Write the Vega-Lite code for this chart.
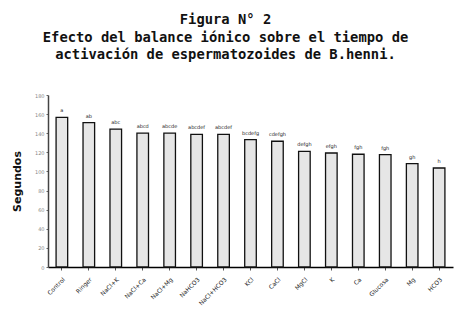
{
  "$schema": "https://vega.github.io/schema/vega-lite/v6.json",
  "autosize": {"type": "none"},
  "width": 405,
  "height": 172,
  "padding": {"left": 48, "top": 95, "right": 9, "bottom": 44},
  "background": "white",
  "title": {
    "text": ["Figura N° 2", "Efecto del balance iónico sobre el tiempo de", "activación de espermatozoides de B.henni."],
    "font": "DejaVu Sans Mono",
    "fontSize": 13.8,
    "fontWeight": "bold",
    "color": "#111",
    "anchor": "middle",
    "frame": "group",
    "dx": -25,
    "offset": 31,
    "lineHeight": 17.5
  },
  "data": {
    "values": [
      {"solucion": "Control", "segundos": 156.6, "letra": "a"},
      {"solucion": "Ringer", "segundos": 151, "letra": "ab"},
      {"solucion": "NaCl+K", "segundos": 144.3, "letra": "abc"},
      {"solucion": "NaCl+Ca", "segundos": 140, "letra": "abcd"},
      {"solucion": "NaCl+Mg", "segundos": 140, "letra": "abcde"},
      {"solucion": "NaHCO3", "segundos": 138.7, "letra": "abcdef"},
      {"solucion": "NaCl+HCO3", "segundos": 138.7, "letra": "abcdef"},
      {"solucion": "KCl", "segundos": 133.4, "letra": "bcdefg"},
      {"solucion": "CaCl", "segundos": 131.6, "letra": "cdefgh"},
      {"solucion": "MgCl", "segundos": 121, "letra": "defgh"},
      {"solucion": "K", "segundos": 119.3, "letra": "efgh"},
      {"solucion": "Ca", "segundos": 118, "letra": "fgh"},
      {"solucion": "Glucosa", "segundos": 117.6, "letra": "fgh"},
      {"solucion": "Mg", "segundos": 108.2, "letra": "gh"},
      {"solucion": "HCO3", "segundos": 103.6, "letra": "h"}
    ]
  },
  "encoding": {
    "x": {
      "field": "solucion",
      "type": "nominal",
      "sort": null,
      "scale": {"paddingInner": 0.57, "paddingOuter": 0.3},
      "axis": {
        "title": null,
        "labelAngle": -45,
        "labelFontSize": 6,
        "labelColor": "#222",
        "labelFont": "DejaVu Sans",
        "domainColor": "#000",
        "domainWidth": 1.5,
        "tickColor": "#555",
        "tickSize": 3,
        "labelPadding": 6
      }
    },
    "y": {
      "field": "segundos",
      "type": "quantitative",
      "scale": {"domain": [0, 180], "nice": false},
      "axis": {
        "title": "Segundos",
        "titleFont": "DejaVu Sans",
        "titleFontSize": 11,
        "titleFontWeight": "bold",
        "titleColor": "#111",
        "titlePadding": 12,
        "values": [0, 20, 40, 60, 80, 100, 120, 140, 160, 180],
        "labelFontSize": 5,
        "labelColor": "#888",
        "labelFont": "DejaVu Sans",
        "grid": false,
        "domainColor": "#444",
        "domainWidth": 1.5,
        "tickColor": "#666",
        "tickSize": 2
      }
    }
  },
  "layer": [
    {
      "mark": {"type": "bar", "fill": "#e6e6e6", "stroke": "#111", "strokeWidth": 1.3}
    },
    {
      "mark": {"type": "text", "dy": -7, "fontSize": 5, "font": "DejaVu Sans", "fill": "#222"},
      "encoding": {"text": {"field": "letra"}}
    }
  ],
  "config": {"view": {"stroke": null}}
}
